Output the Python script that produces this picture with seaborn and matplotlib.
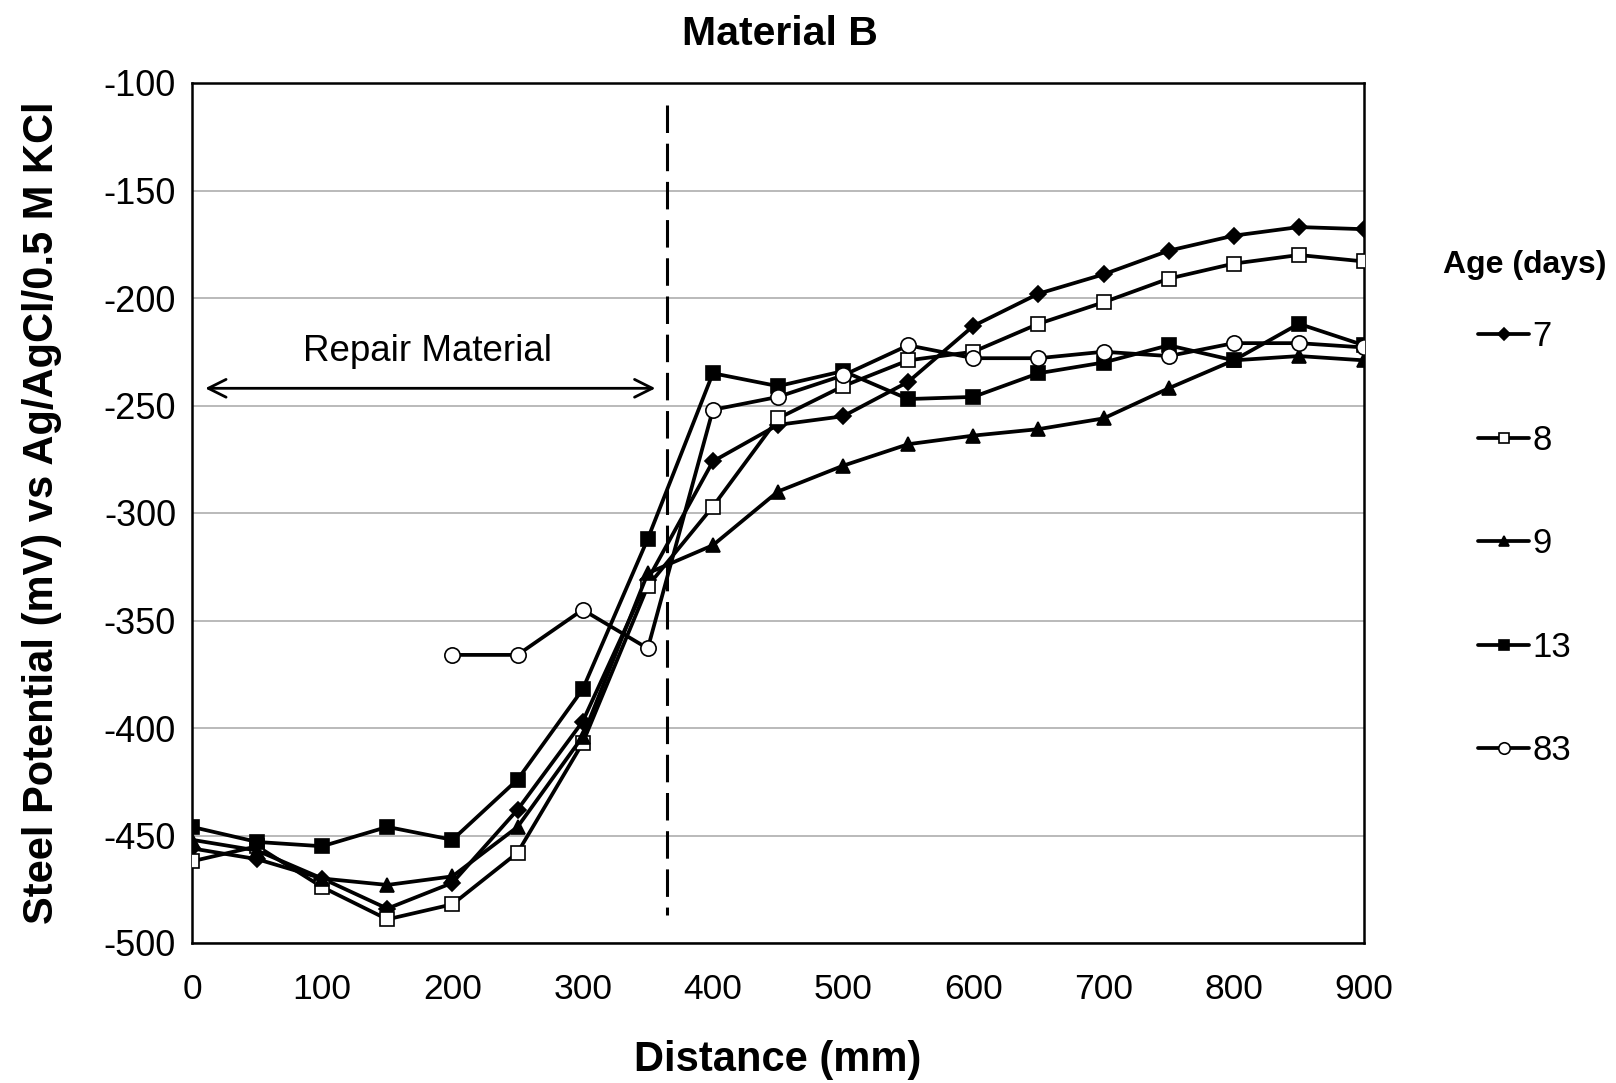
import matplotlib
matplotlib.use("Agg")
import matplotlib.pyplot as plt
import seaborn as sns
import numpy as np
from matplotlib.ticker import MultipleLocator

distance = [0, 50, 100, 150, 200, 250, 300, 350, 400, 450, 500, 550, 600, 650, 700, 750, 800, 850, 900]
age_7 = [-456, -461, -470, -484, -472, -438, -397, -331, -276, -259, -255, -239, -213, -198, -189, -178, -171, -167, -168]
age_8 = [-462, -455, -474, -489, -482, -458, -407, -334, -297, -256, -241, -229, -225, -212, -202, -191, -184, -180, -183]
age_9 = [-452, -457, -470, -473, -469, -446, -404, -328, -315, -290, -278, -268, -264, -261, -256, -242, -229, -227, -229]
age_13 = [-446, -453, -455, -446, -452, -424, -382, -312, -235, -241, -234, -247, -246, -235, -230, -222, -229, -212, -222]
age_83 = [None, None, None, None, -366, -366, -345, -363, -252, -246, -236, -222, -228, -228, -225, -227, -221, -221, -223]
series_labels = ["7", "8", "9", "13", "83"]

sns.set_theme(style="white")
plt.rcParams['font.family'] = ['Liberation Sans', 'DejaVu Sans']
plt.rcParams['axes.unicode_minus'] = False
plt.rcParams['text.color'] = 'black'
plt.rcParams['axes.labelcolor'] = 'black'
plt.rcParams['xtick.color'] = 'black'
plt.rcParams['ytick.color'] = 'black'

fig = plt.figure(figsize=(16.16, 10.83), dpi=100)
ax = fig.add_axes([192/1616, 1-943/1083, (1364-192)/1616, (943-83)/1083])

styles = [
    dict(marker="D", mfc="black", ms=8.5),
    dict(marker="s", mfc="white", ms=10),
    dict(marker="^", mfc="black", ms=10),
    dict(marker="s", mfc="black", ms=10),
    dict(marker="o", mfc="white", ms=11),
]
all_series = [age_7, age_8, age_9, age_13, age_83]
for vals, lab, st in zip(all_series, series_labels, styles):
    xs = [d for d, v in zip(distance, vals) if v is not None]
    ys = [v for v in vals if v is not None]
    sns.lineplot(x=xs, y=ys, ax=ax, color="black", linewidth=2.7, marker=st["marker"],
                 markersize=st["ms"], markerfacecolor=st["mfc"], markeredgecolor="black",
                 markeredgewidth=1.2, label=lab, zorder=3)

ax.set_xlim(0, 900)
ax.set_ylim(-500, -100)
ax.xaxis.set_major_locator(MultipleLocator(100))
ax.xaxis.set_minor_locator(MultipleLocator(50))
ax.yaxis.set_major_locator(MultipleLocator(50))
ax.yaxis.set_minor_locator(MultipleLocator(25))
ax.tick_params(axis="x", which="both", direction="inout", length=15, width=1.5, color="black")
ax.tick_params(axis="x", which="major", labelsize=25.5, pad=14, labelcolor="black")
ax.tick_params(axis="y", which="major", direction="inout", length=15, width=1.5, labelsize=26, pad=4,
               labelcolor="black")
ax.tick_params(axis="y", which="minor", direction="out", length=7, width=1.5)
ax.grid(axis="y", which="major", color="#b4b4b4", linewidth=1.3)
ax.grid(axis="x", visible=False)
for sp in ax.spines.values():
    sp.set_visible(True)
    sp.set_color("black")
    sp.set_linewidth(1.8)

ax.plot([365, 365], [-110, -487], color="black", linewidth=2.2, dashes=(9, 3.5), zorder=2)
ax.annotate("", xy=(8, -242), xytext=(358, -242),
            arrowprops=dict(arrowstyle="<->", lw=2, color="black", mutation_scale=32))
ax.text(181, -225, "Repair Material", fontsize=26.5, ha="center", va="center", color="black")

ax.set_xlabel("Distance (mm)", fontsize=30, fontweight="bold", color="black")
ax.xaxis.set_label_coords(0.5, -0.113)
ax.set_ylabel("Steel Potential (mV) vs Ag/AgCl/0.5 M KCl", fontsize=30, fontweight="bold", color="black")
ax.yaxis.set_label_coords(-0.111, 0.5)
fig.text(780/1616, 1-34/1083, "Material B", fontsize=29.5, fontweight="bold", ha="center", va="center",
         color="black")

leg = ax.legend(loc="upper left", bbox_to_anchor=(1443/1616, 1-250/1083), bbox_transform=fig.transFigure,
                frameon=False, fontsize=25, title="Age (days)", handlelength=1.45, handletextpad=0.1,
                labelspacing=2.03, markerscale=0.75, borderaxespad=0, borderpad=0)
leg.get_title().set_fontweight("bold")
leg.get_title().set_fontsize(23)
leg.get_title().set_color("black")
for t in leg.get_texts():
    t.set_color("black")
leg._legend_box.align = "center"
leg._legend_box.sep = 29

fig.savefig("out.png", dpi=100, facecolor="white")
